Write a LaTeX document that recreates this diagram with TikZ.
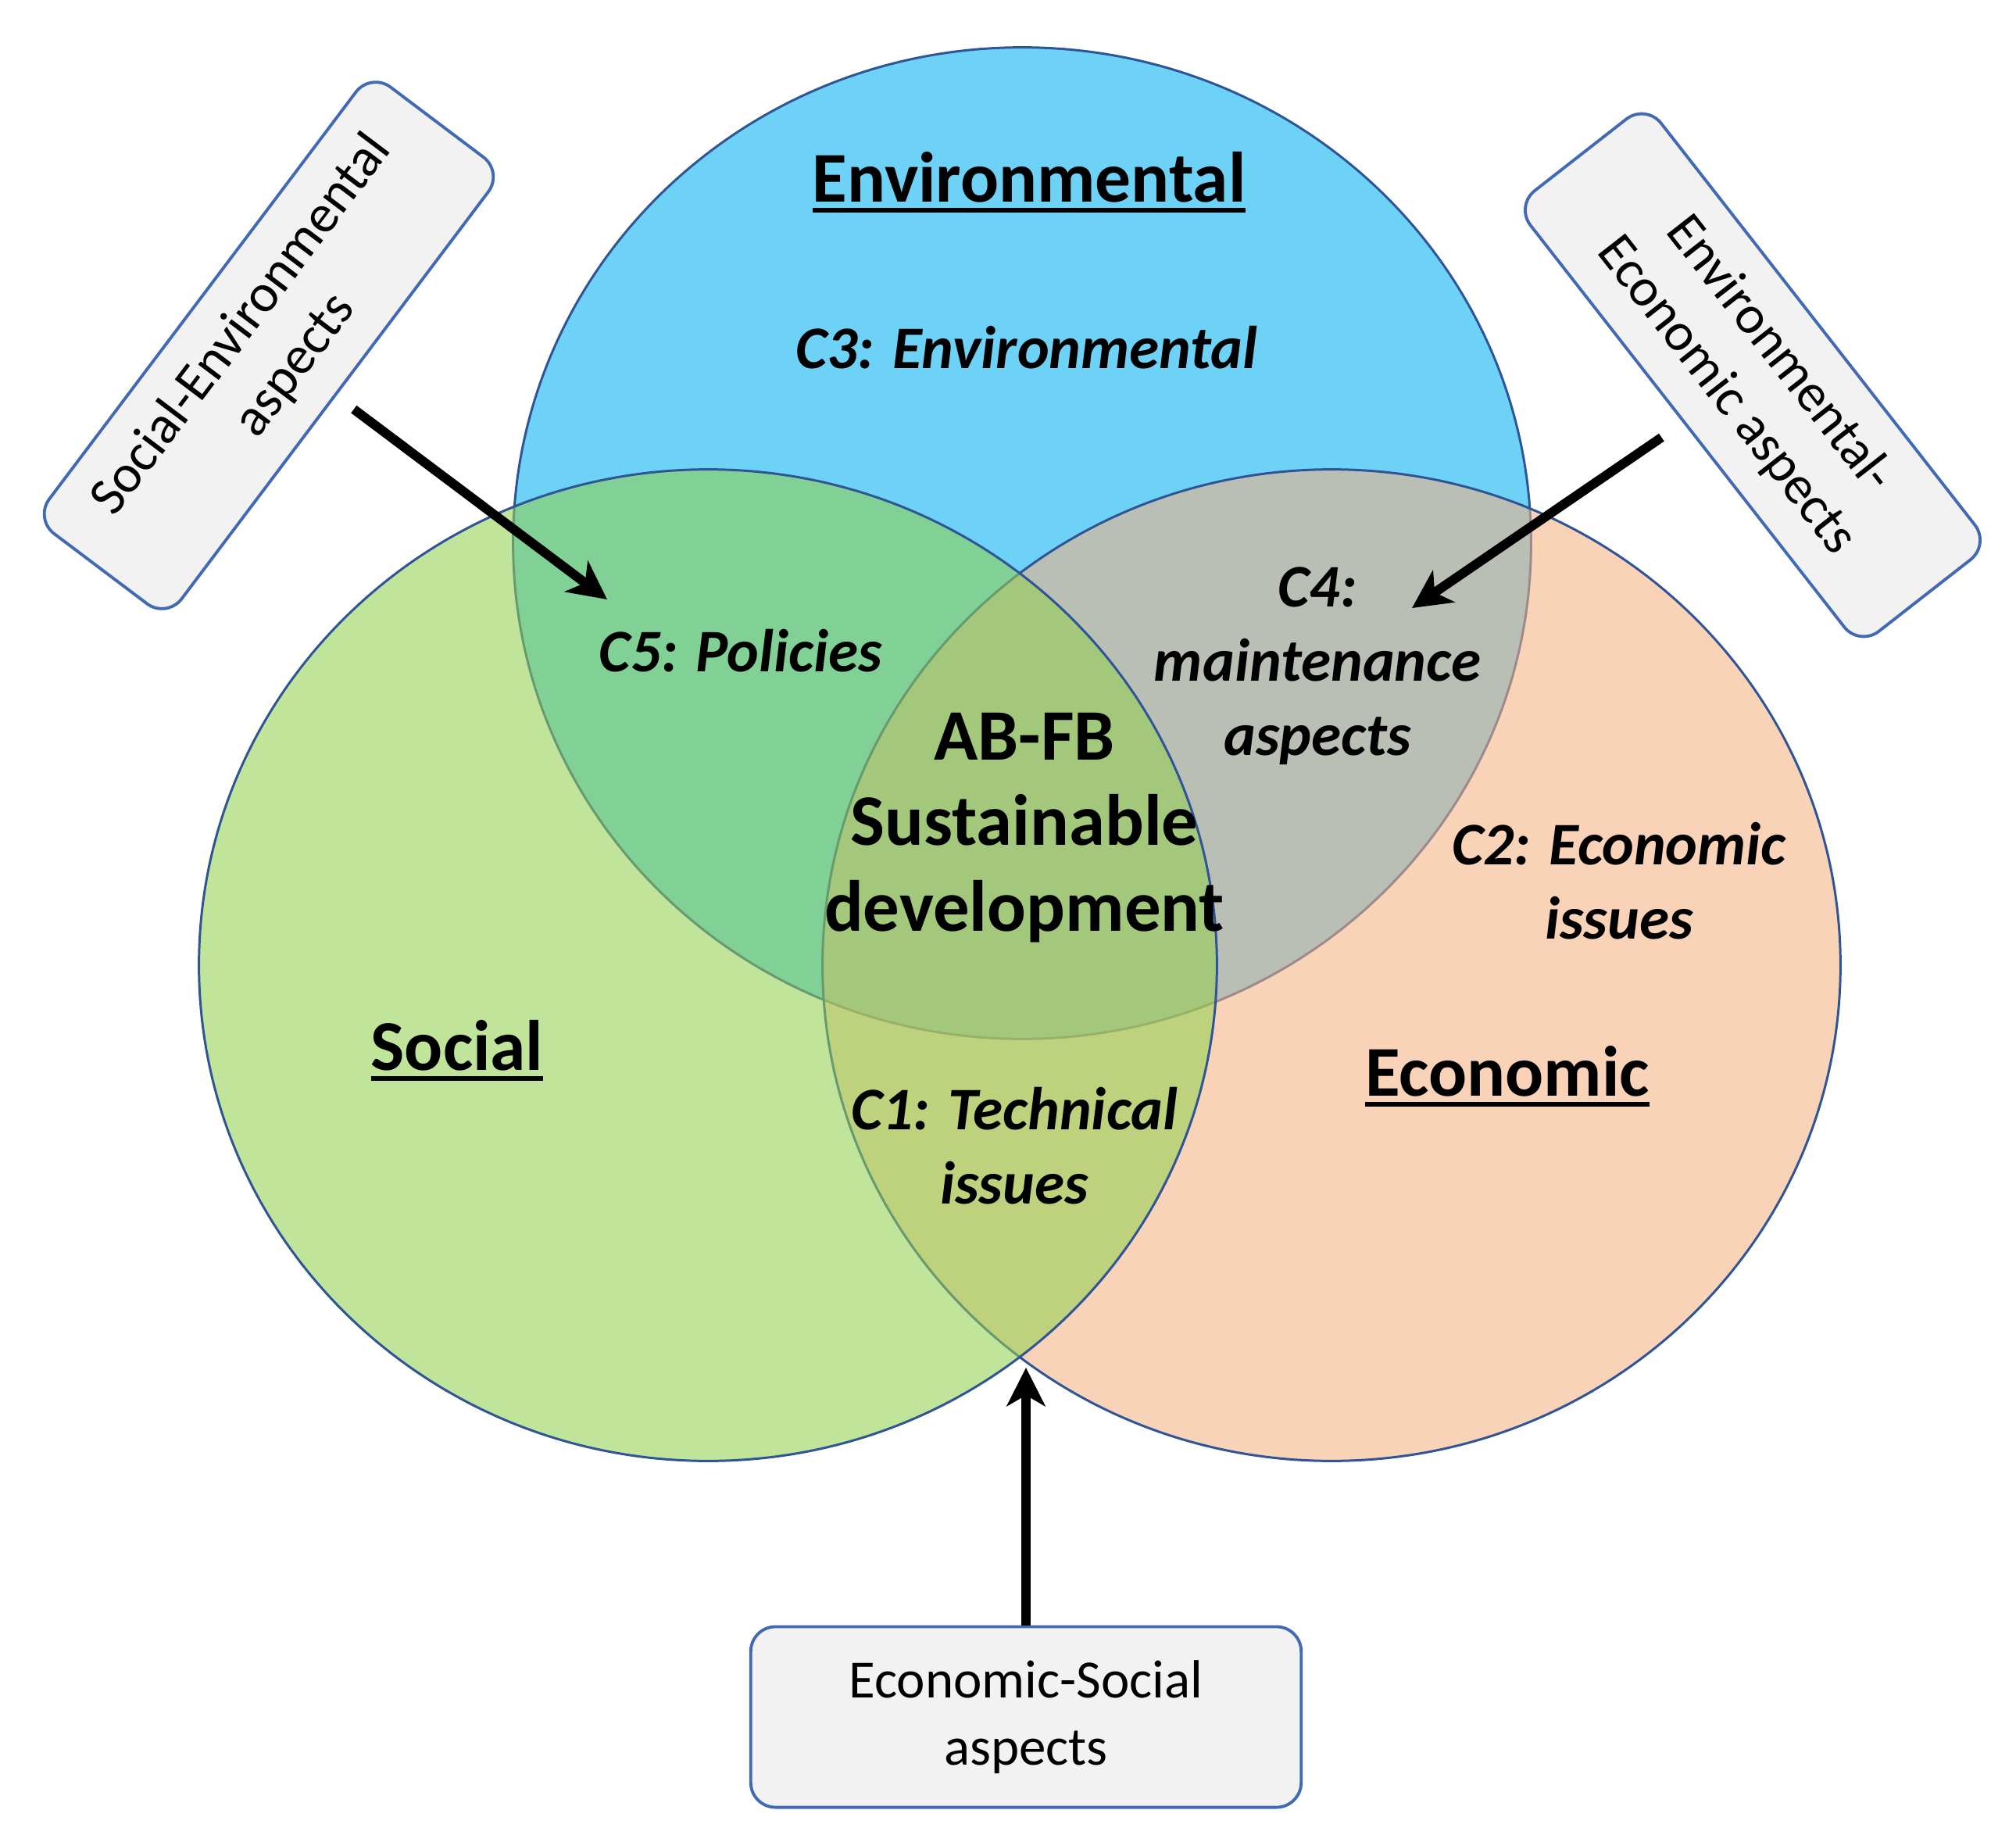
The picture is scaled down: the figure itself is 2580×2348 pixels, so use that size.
\documentclass[tikz,border=0pt]{standalone}
\usepackage{fontspec}
\setmainfont{Carlito}
\usepackage{xcolor}
\usetikzlibrary{arrows.meta}

\definecolor{envblue}{HTML}{00B0F0}
\definecolor{socgreen}{HTML}{92D050}
\definecolor{ecoorange}{HTML}{F4B183}
\definecolor{rimblue}{HTML}{2F5597}
\definecolor{boxgray}{HTML}{F2F2F2}
\definecolor{boxrim}{HTML}{4169B4}

\newcommand{\ulhead}[1]{\setbox0\hbox{#1}\rlap{\copy0}\rule[-4pt]{\wd0}{1.7pt}}

\begin{document}
\begin{tikzpicture}[x=0.01cm,y=-0.01cm,
  area/.style={draw=rimblue,line width=0.85pt,fill opacity=0.57},
  head/.style={font=\bfseries\fontsize{26pt}{31pt}\selectfont,anchor=base},
  clabel/.style={font=\bfseries\itshape\fontsize{22pt}{27pt}\selectfont,align=center},
  aspect/.style={draw=boxrim,line width=1.1pt,fill=boxgray,rounded corners=9pt,align=center,
    font=\fontsize{19.6pt}{24.4pt}\selectfont,minimum width=7.15cm,minimum height=2.12cm},
  pointer/.style={-{Stealth[length=14pt,width=14pt,inset=4pt]},line width=3.4pt}]
  \useasboundingbox (0,0) rectangle (2580,2348);

  % the three areas
  \draw[area,fill=envblue]    (1308,695)  ellipse [x radius=6.51cm,y radius=6.34cm];
  \draw[area,fill=ecoorange]  (1704,1235) ellipse [x radius=6.51cm,y radius=6.34cm];
  \draw[area,fill=socgreen]   (906,1235)  ellipse [x radius=6.51cm,y radius=6.34cm];

  \node[head] (envhead) at (1317,258)  {\ulhead{Environmental}};
  \node[head] (sochead) at (585,1369)  {\ulhead{Social}};
  \node[head] (ecohead) at (1929,1402) {\ulhead{Economic}};

  \node[clabel,anchor=base] (c3) at (1314,471) {C3: Environmental};
  \node[clabel,anchor=base] (c5) at (948,859)  {C5: Policies};
  \node[clabel] (c4) at (1686,852)  {C4:\\maintenance\\aspects};
  \node[clabel] (c2) at (2072,1127) {C2: Economic\\issues};
  \node[clabel] (c1) at (1298,1466) {C1: Technical\\issues};
  \node[font=\bfseries\fontsize{26.4pt}{31.2pt}\selectfont,align=center] (core) at (1311,1059)
    {AB-FB\\Sustainable\\development};

  % aspect boxes
  \node[aspect,rotate=53]  (socenv) at (344,442)  {Social-Environmental\\aspects};
  \node[aspect,rotate=-52] (enveco) at (2243,480) {Environmental-\\Economic aspects};
  \node[aspect,minimum width=7.04cm,minimum height=2.31cm] (ecosoc) at (1313,2197) {Economic-Social\\aspects};

  \coordinate (c5tip) at (777,767);
  \coordinate (c4tip) at (1807,778);
  \coordinate (c1tip) at (1313,1750);

  \draw[pointer,shorten <=0.28cm] (socenv) -- (c5tip);
  \draw[pointer,shorten <=0.33cm] (enveco) -- (c4tip);
  \draw[pointer] (ecosoc) -- (c1tip);
\end{tikzpicture}
\end{document}
